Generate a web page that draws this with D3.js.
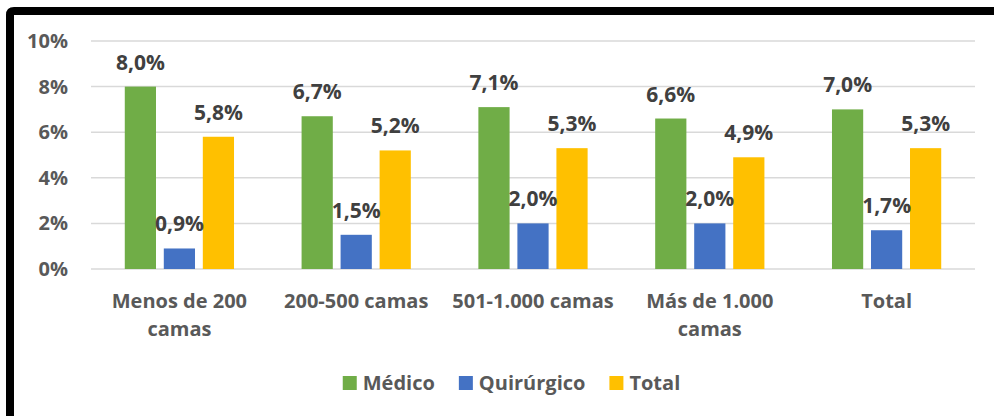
<!DOCTYPE html>
<html>
<head>
<meta charset="utf-8">
<script src="https://cdn.jsdelivr.net/npm/d3@7"></script>
<style>
  body { margin: 0; background: #fff; }
  text { font-family: "Open Sans", sans-serif; font-weight: bold; }
</style>
</head>
<body>
<div id="chart"></div>
<script>
// data
var categories = ["Menos de 200 camas", "200-500 camas", "501-1.000 camas", "Más de 1.000 camas", "Total"];
var seriesNames = ["Médico", "Quirúrgico", "Total"];
var medico = [8.0, 6.7, 7.1, 6.6, 7.0];
var quirurgico = [0.9, 1.5, 2.0, 2.0, 1.7];
var total = [5.8, 5.2, 5.3, 4.9, 5.3];
var yTicks = [0, 2, 4, 6, 8, 10];
var colors = ["#70ad47", "#4472c4", "#ffc000"];

var W = 994, H = 416;
var plot = {left: 91, right: 975, top: 41, bottom: 269};

var svg = d3.select("#chart").append("svg")
    .attr("width", W)
    .attr("height", H);

// black frame (runs off the right and bottom edge)
svg.append("path")
    .attr("d", "M10,430 L10,15 Q10,11 14,11 L1010,11")
    .attr("fill", "none")
    .attr("stroke", "#000")
    .attr("stroke-width", 8);

var x0 = d3.scaleBand()
    .domain(categories)
    .range([plot.left, plot.right])
    .paddingInner(0.338)
    .paddingOuter(0.169);

var x1 = d3.scaleBand()
    .domain(seriesNames)
    .range([0, x0.bandwidth()])
    .paddingInner(0.2)
    .paddingOuter(0.1);

var y = d3.scaleLinear()
    .domain([0, 10])
    .range([plot.bottom, plot.top]);

var color = d3.scaleOrdinal().domain(seriesNames).range(colors);

// gridlines
svg.append("g").selectAll("line")
    .data(yTicks)
  .enter().append("line")
    .attr("x1", plot.left)
    .attr("x2", plot.right)
    .attr("y1", function(d) { return y(d); })
    .attr("y2", function(d) { return y(d); })
    .attr("stroke", "#d9d9d9")
    .attr("stroke-width", 1.5);

// y axis labels
var yAxis = d3.axisLeft(y)
    .tickValues(yTicks)
    .tickSize(0)
    .tickPadding(0)
    .tickFormat(function(d) { return d + "%"; });

var gy = svg.append("g")
    .attr("transform", "translate(68,0)")
    .call(yAxis);
gy.select(".domain").remove();
gy.selectAll("text")
    .attr("fill", "#595959")
    .style("font-size", "20px")
    .style("font-family", "'Open Sans', sans-serif")
    .style("font-weight", "bold");

// x axis labels
var xAxis = d3.axisBottom(x0).tickSize(0).tickPadding(0);
var gx = svg.append("g")
    .attr("transform", "translate(0,308)")
    .call(xAxis);
gx.select(".domain").remove();
gx.selectAll("text")
    .attr("fill", "#595959")
    .attr("dy", 0)
    .style("font-size", "20px")
    .style("font-family", "'Open Sans', sans-serif")
    .style("font-weight", "bold")
    .call(wrap, 170);

function wrap(sel, width) {
  sel.each(function() {
    var text = d3.select(this),
        words = text.text().split(/\s+/),
        line = [],
        lineNo = 0,
        tspan = text.text(null).append("tspan").attr("x", 0).attr("y", 0);
    words.forEach(function(w) {
      line.push(w);
      tspan.text(line.join(" "));
      if (tspan.node().getComputedTextLength() > width && line.length > 1) {
        line.pop();
        tspan.text(line.join(" "));
        line = [w];
        lineNo++;
        tspan = text.append("tspan").attr("x", 0).attr("y", lineNo * 28).text(w);
      }
    });
  });
}

// bars
var rows = categories.map(function(c, i) {
  return {cat: c, values: [
    {name: seriesNames[0], v: medico[i]},
    {name: seriesNames[1], v: quirurgico[i]},
    {name: seriesNames[2], v: total[i]}
  ]};
});

var groups = svg.selectAll(".group")
    .data(rows)
  .enter().append("g")
    .attr("class", "group")
    .attr("transform", function(d) { return "translate(" + x0(d.cat) + ",0)"; });

groups.selectAll("rect")
    .data(function(d) { return d.values; })
  .enter().append("rect")
    .attr("x", function(d) { return x1(d.name); })
    .attr("width", x1.bandwidth())
    .attr("y", function(d) { return y(d.v); })
    .attr("height", function(d) { return y(0) - y(d.v); })
    .attr("fill", function(d) { return color(d.name); });

groups.selectAll(".val")
    .data(function(d) { return d.values; })
  .enter().append("text")
    .attr("class", "val")
    .attr("x", function(d) { return x1(d.name) + x1.bandwidth() / 2; })
    .attr("y", function(d) { return y(d.v) - 17; })
    .attr("text-anchor", "middle")
    .attr("fill", "#404040")
    .style("font-size", "21px")
    .text(function(d) { return d.v.toFixed(1).replace(".", ",") + "%"; });

// legend
var legend = svg.append("g");
var lx = 0;
seriesNames.forEach(function(s) {
  var item = legend.append("g").attr("transform", "translate(" + lx + ",0)");
  item.append("rect")
      .attr("x", 0).attr("y", 376)
      .attr("width", 14).attr("height", 14)
      .attr("fill", color(s));
  var t = item.append("text")
      .attr("x", 20).attr("y", 390)
      .attr("fill", "#595959")
      .style("font-size", "20px")
      .text(s);
  lx += 20 + t.node().getComputedTextLength() + 24;
});
var legW = lx - 24;
legend.attr("transform", "translate(" + (511.5 - legW / 2) + ",0)");
</script>
</body>
</html>
